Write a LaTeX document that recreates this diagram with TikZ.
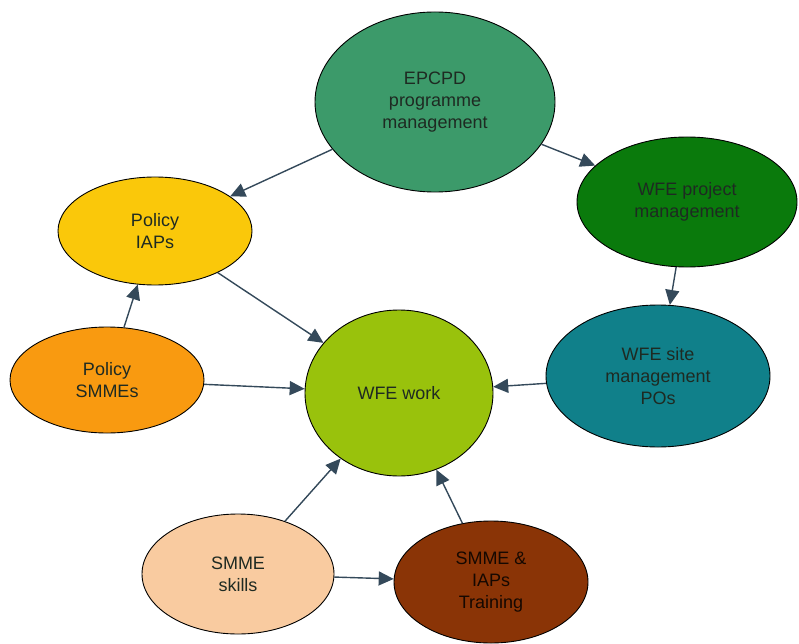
\documentclass[tikz,border=0pt]{standalone}
\usepackage{fontspec}
\setmainfont{Liberation Sans}
\usetikzlibrary{shapes.geometric,arrows.meta}
\definecolor{cEPCPD}{HTML}{3C9A6A}
\definecolor{cProj}{HTML}{0A7A0C}
\definecolor{cIAP}{HTML}{FAC80A}
\definecolor{cSMME}{HTML}{F99A10}
\definecolor{cWork}{HTML}{99C20C}
\definecolor{cSite}{HTML}{10808A}
\definecolor{cSkill}{HTML}{F9CBA0}
\definecolor{cTrain}{HTML}{8A3406}
\definecolor{cArrow}{HTML}{34495A}
\definecolor{cText}{HTML}{1E2A22}
\tikzset{
  bubble/.style={ellipse, draw=black, line width=0.9pt, inner sep=0pt, align=center,
    text=cText, font=\fontsize{18}{22}\selectfont},
  link/.style={draw=cArrow, line width=1.4pt, -{Triangle[length=15pt,width=14pt]}}
}
\begin{document}
\begin{tikzpicture}[x=1pt,y=-1pt]
\useasboundingbox (0,0) rectangle (799,644);
\node[bubble, fill=cEPCPD, minimum width=240pt, minimum height=180pt] (epcpd) at (435,102) {EPCPD\\programme\\management};
\node[bubble, fill=cProj, minimum width=220pt, minimum height=130pt] (proj) at (687,202) {WFE project\\management};
\node[bubble, fill=cIAP, minimum width=194pt, minimum height=108pt] (iaps) at (155,231) {Policy\\IAPs};
\node[bubble, fill=cSMME, minimum width=194pt, minimum height=106pt] (smmes) at (107,380) {Policy\\SMMEs};
\node[bubble, fill=cWork, minimum width=188pt, minimum height=166pt] (work) at (399,393) {WFE work};
\node[bubble, fill=cSite, minimum width=224pt, minimum height=142pt] (site) at (658,376) {WFE site\\management\\POs};
\node[bubble, fill=cSkill, minimum width=192pt, minimum height=120pt] (skills) at (238,574) {SMME\\skills};
\node[bubble, fill=cTrain, minimum width=194pt, minimum height=122pt, text=black!85!cTrain] (train) at (491,582) {SMME \&\\IAPs\\Training};
\draw[link] (epcpd) -- (iaps);
\draw[link] (epcpd) -- (proj);
\draw[link] (proj) -- (site);
\draw[link] (site) -- (work);
\draw[link] (iaps) -- (work);
\draw[link] (smmes) -- (iaps);
\draw[link] (smmes) -- (work);
\draw[link] (skills) -- (work);
\draw[link] (train) -- (work);
\draw[link] (skills) -- (train);
\end{tikzpicture}
\end{document}
